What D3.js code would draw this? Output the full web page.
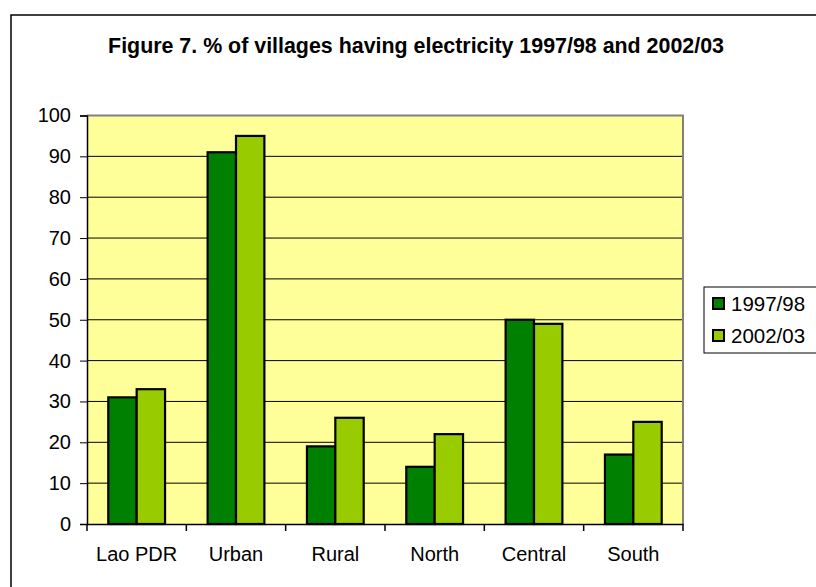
<!DOCTYPE html>
<html><head><meta charset="utf-8">
<script src="https://cdn.jsdelivr.net/npm/d3@7"></script>
<style>body{margin:0;background:#fff}svg{display:block}text{font-family:Arial,"Liberation Sans",sans-serif}</style>
</head><body>
<script>
const categories = ["Lao PDR","Urban","Rural","North","Central","South"];
const seriesNames = ["1997/98","2002/03"];
const values1997 = [31,91,19,14,50,17];
const values2002 = [33,95,26,22,49,25];
const yTicks = [0,10,20,30,40,50,60,70,80,90,100];
const title = "Figure 7. % of villages having electricity 1997/98 and 2002/03";
const colors = ["#008000","#99CC00"];

const W=816,H=587;
const svg=d3.select("body").append("svg").attr("width",W).attr("height",H);
svg.append("rect").attr("x",11).attr("y",15).attr("width",830).attr("height",600).attr("fill","#fff").attr("stroke","#000").attr("stroke-width",1.5);
svg.append("text").attr("x",416).attr("y",53).attr("text-anchor","middle").attr("font-weight","bold").attr("font-size",21.4).text(title);

const L=87,R=683,T=115.5,B=524;
const x=d3.scaleBand().domain(categories).range([L,R]).paddingInner(0).paddingOuter(0);
const x1=d3.scaleBand().domain(seriesNames).range([0,x.bandwidth()]).paddingInner(0).paddingOuter(0.75);
const y=d3.scaleLinear().domain([0,100]).range([B,T]);

svg.append("rect").attr("x",L).attr("y",T).attr("width",R-L).attr("height",B-T).attr("fill","#FFFF99");
svg.append("g").selectAll("line").data(yTicks.filter(d=>d>0&&d<100)).join("line")
 .attr("x1",L).attr("x2",R).attr("y1",d=>y(d)).attr("y2",d=>y(d)).attr("stroke","#000").attr("stroke-width",1);
svg.append("path").attr("d",`M${L},${T}H${R}V${B}`).attr("fill","none").attr("stroke","#808080").attr("stroke-width",2);

const data=categories.map((c,i)=>({c,vals:[values1997[i],values2002[i]]}));
const g=svg.append("g").selectAll("g").data(data).join("g").attr("transform",d=>`translate(${x(d.c)},0)`);
g.selectAll("rect").data(d=>d.vals.map((v,j)=>({v,s:seriesNames[j],j}))).join("rect")
 .attr("x",d=>x1(d.s)).attr("width",x1.bandwidth()).attr("y",d=>y(d.v)).attr("height",d=>y(0)-y(d.v))
 .attr("fill",d=>colors[d.j]).attr("stroke","#000").attr("stroke-width",2.2);

const ya=svg.append("g").attr("transform",`translate(${L},0)`).call(d3.axisLeft(y).tickValues(yTicks).tickSize(7).tickPadding(9));
ya.select(".domain").attr("stroke","#000").attr("stroke-width",1.5);
ya.selectAll(".tick line").attr("stroke","#000");
ya.selectAll("text").attr("font-size",20).attr("fill","#000").attr("font-family","Arial, Liberation Sans, sans-serif");
const xa=svg.append("g").attr("transform",`translate(0,${B})`).call(d3.axisBottom(x).tickSize(0).tickPadding(23));
xa.select(".domain").attr("stroke","#000").attr("stroke-width",1.5);
xa.selectAll("text").attr("font-size",20).attr("fill","#000").attr("font-family","Arial, Liberation Sans, sans-serif");
svg.append("g").selectAll("line").data(categories.concat([null])).join("line")
 .attr("x1",(d,i)=>L+i*x.step()).attr("x2",(d,i)=>L+i*x.step()).attr("y1",B).attr("y2",B+7).attr("stroke","#000").attr("stroke-width",1.5);

const lg=svg.append("g");
lg.append("rect").attr("x",704).attr("y",287).attr("width",130).attr("height",66).attr("fill","#fff").attr("stroke","#000").attr("stroke-width",1);
seriesNames.forEach((s,i)=>{
 lg.append("rect").attr("x",713).attr("y",298+i*32).attr("width",11).attr("height",11).attr("fill",colors[i]).attr("stroke","#000").attr("stroke-width",2);
 lg.append("text").attr("x",731).attr("y",311+i*32).attr("font-size",20.5).text(s);
});
</script>
</body></html>
